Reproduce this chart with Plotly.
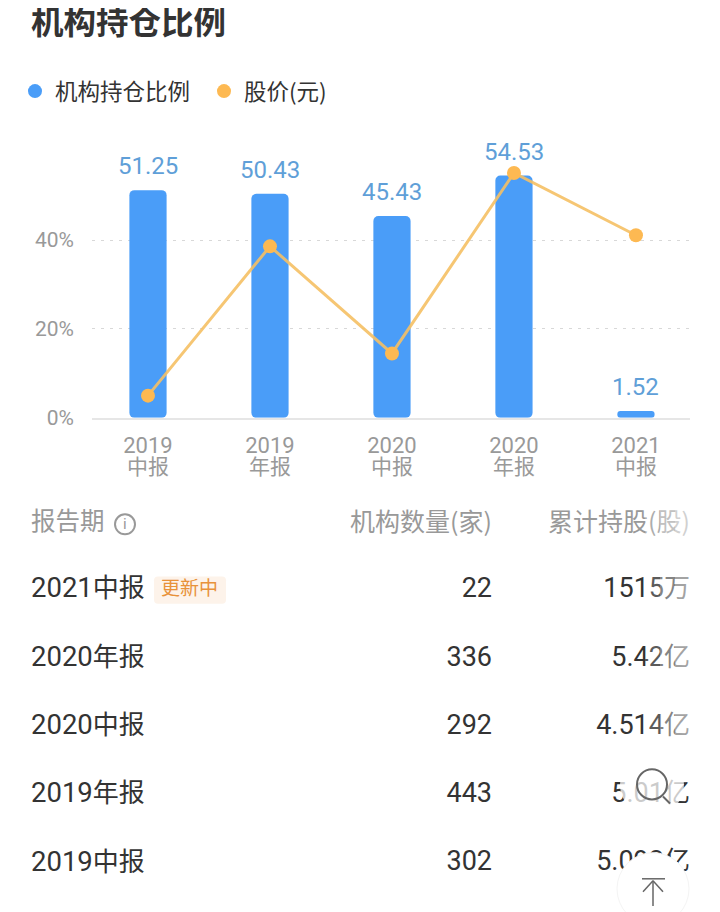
import plotly.graph_objects as go

# the page body has an 8px margin, so the figure starts at (8, 8) in the window
OFF = 8
W, H = 712, 920
# the photographed page comes out slightly compressed vertically, this undoes it
YS = 1.0175
FONT = "Roboto, 'Noto Sans CJK SC', sans-serif"
CJK = "'Noto Sans CJK SC', sans-serif"

# Chart data
years = ["2019", "2019", "2020", "2020", "2021"]
kinds = ["中报", "年报", "中报", "年报", "中报"]
ratio = [51.25, 50.43, 45.43, 54.53, 1.52]
price = [5.0, 38.6, 14.5, 55.1, 41.1]
pos = [0, 1, 2, 3, 4]
y_ticks = [0, 20, 40]

# Table data
headers = ["报告期", "机构数量(家)", "累计持股(股)"]
periods = ["2021中报", "2020年报", "2020中报", "2019年报", "2019中报"]
counts = ["22", "336", "292", "443", "302"]
holdings = ["1515万", "5.42亿", "4.514亿", "5.01亿", "5.092亿"]

BLUE = "#4a9df8"
LABEL = "#5f9fd8"
ORANGE = "#fdb952"
GREY = "#999999"
DARK = "#333333"
row_y = [588 + 68 * i for i in range(len(periods))]


def px(x):
    return (x - OFF) / W


def py(y):
    return 1 - (y * YS - OFF) / H


def mixed(text, unit_len, size=26):
    # digits are a bit larger than the CJK unit next to them
    return f"{text[:-unit_len]}<span style='font-size:{size}px'>{text[-unit_len:]}</span>"


fig = go.Figure()

# an explicit base makes plotly round all four corners
fig.add_trace(go.Bar(
    x=pos, y=ratio, base=[0] * len(ratio), width=0.305, showlegend=False,
    marker=dict(color=BLUE, cornerradius=5, line_width=0),
))
fig.add_trace(go.Scatter(
    x=pos, y=price, mode="lines+markers", showlegend=False,
    line=dict(color="rgba(245,192,100,0.9)", width=3),
    marker=dict(color=ORANGE, size=14),
))

# legend-only entries, so the swatches are plain dots
fig.add_trace(go.Scatter(x=[None], y=[None], mode="markers", name="机构持仓比例",
                         marker=dict(color=BLUE, size=14)))
fig.add_trace(go.Scatter(x=[None], y=[None], mode="markers", name="股价(元)",
                         marker=dict(color=ORANGE, size=14)))

# second line of the category labels
fig.add_trace(go.Scatter(
    x=pos, y=[467] * 5, yaxis="y2", mode="text", text=kinds, showlegend=False,
    textfont=dict(color=GREY, size=21, family=CJK), cliponaxis=False,
))


# Table drawn on a page-sized pixel axis
def text_col(x, y, text, anchor, color, size, family=FONT):
    fig.add_trace(go.Scatter(
        x=[x] * len(y), y=y, xaxis="x2", yaxis="y2", mode="text", text=text,
        textposition=f"middle {anchor}", showlegend=False, cliponaxis=False,
        textfont=dict(color=color, size=size, family=family),
    ))


text_col(31, [522], headers[:1], "right", GREY, 24.5, CJK)
text_col(492, [522], headers[1:2], "left", GREY, 25, CJK)
text_col(690, [522], headers[2:], "left", GREY, 25, CJK)
text_col(31, row_y, [mixed(p, 2) for p in periods], "right", DARK, 27.5)
text_col(492, row_y, counts, "left", DARK, 27)
text_col(690, row_y, [mixed(h, 1) for h in holdings], "left", DARK, 27)
text_col(161, [588], ["更新中"], "right", "#e8923a", 19, CJK)

# Data labels above the bars
for i, v in zip(pos, ratio):
    fig.add_annotation(x=i, y=v, text=f"{v:.2f}", showarrow=False, yanchor="bottom", yshift=8,
                       font=dict(color=LABEL, size=24, family=FONT))

# Info icon "i"
fig.add_annotation(x=125, y=522, xref="x2", yref="y2", text="i", showarrow=False,
                   font=dict(color=GREY, size=15, family=FONT))


def page_shape(**kw):
    fig.add_shape(xref="x2", yref="y2", **kw)


# badge behind 更新中
page_shape(type="path", layer="below", line_width=0, fillcolor="#fdf3ea",
           path="M 158 574 H 222 Q 226 574 226 578 V 597 Q 226 601 222 601 H 158 "
                "Q 154 601 154 597 V 578 Q 154 574 158 574 Z")
page_shape(type="circle", x0=115, x1=135, y0=512, y1=532, line=dict(color=GREY, width=2))

# floating buttons over the table, they wash out the text under them
for x0, op in [(645, 0.2), (660, 0.25), (675, 0.25)]:
    page_shape(type="rect", x0=x0, x1=728, y0=500, y1=760, fillcolor="white",
               opacity=op, line_width=0, layer="above")
page_shape(type="circle", x0=620, x1=684, y0=749, y1=813, fillcolor="rgba(255,255,255,0.75)",
           line_width=0, layer="above")
page_shape(type="circle", x0=637, x1=667, y0=766, y1=796, line=dict(color="#666666", width=2), layer="above")
page_shape(type="line", x0=663, x1=670, y0=793, y1=800, line=dict(color="#666666", width=2), layer="above")
page_shape(type="circle", x0=617, x1=689, y0=849, y1=921, fillcolor="white",
           line=dict(color="#f4f4f4", width=1), layer="above")
page_shape(type="line", x0=642, x1=665, y0=875, y1=875, line=dict(color="#666666", width=1.5), layer="above")
page_shape(type="line", x0=653, x1=653, y0=877, y1=902, line=dict(color="#666666", width=1.5), layer="above")
page_shape(type="line", x0=653, x1=643, y0=877, y1=888, line=dict(color="#666666", width=1.5), layer="above")
page_shape(type="line", x0=653, x1=663, y0=877, y1=888, line=dict(color="#666666", width=1.5), layer="above")

fig.update_layout(
    width=W, height=H,
    margin=dict(l=0, r=0, t=0, b=0),
    barmode="overlay",
    paper_bgcolor="white", plot_bgcolor="rgba(0,0,0,0)",
    font=dict(family=FONT, color=DARK),
    title=dict(text="<b>机构持仓比例</b>", x=px(31), y=py(22), xanchor="left", yanchor="middle",
               font=dict(size=32.5, color=DARK, family=CJK)),
    legend=dict(orientation="h", x=px(15), y=py(91), xanchor="left", yanchor="middle",
                font=dict(size=22.5, color=DARK, family=CJK), itemwidth=30, entrywidth=144,
                bgcolor="rgba(0,0,0,0)"),
    xaxis=dict(
        domain=[px(92), px(690)], range=[-0.459, 4.443],
        tickmode="array", tickvals=pos, ticktext=years,
        tickfont=dict(size=22, color=GREY), ticks="", ticklabelstandoff=7,
        showgrid=False, zeroline=False, showline=True, linecolor="#e6e6e6", linewidth=2,
    ),
    yaxis=dict(
        domain=[py(416), py(129)], range=[0, 64.86],
        tickmode="array", tickvals=y_ticks, ticktext=[f"{t}%" for t in y_ticks],
        tickfont=dict(size=21, color=GREY), ticks="", ticklabelstandoff=17,
        showgrid=True, gridcolor="#d8d8d8", gridwidth=1, griddash="3px,6px",
        zeroline=False, showline=False,
    ),
    xaxis2=dict(domain=[0, 1], range=[OFF, W + OFF], visible=False, anchor="y2"),
    yaxis2=dict(domain=[0, 1], range=[(H + OFF) / YS, OFF / YS], visible=False, anchor="x2"),
)

fig.write_html("out.html")
